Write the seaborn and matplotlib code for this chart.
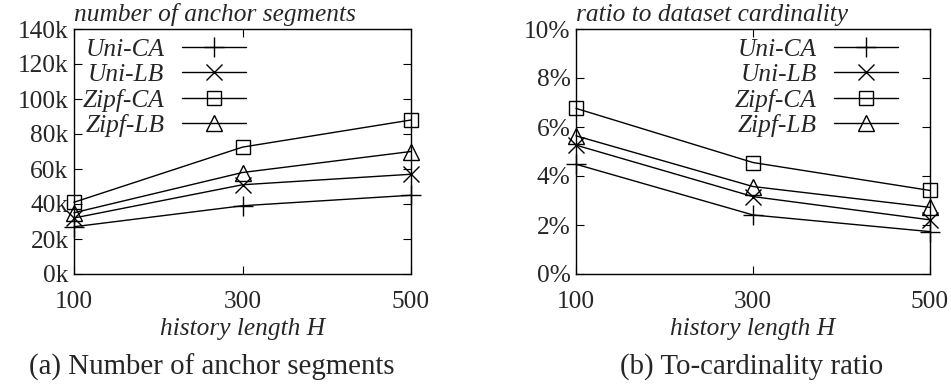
import matplotlib
matplotlib.use("Agg")
import matplotlib.pyplot as plt
import seaborn as sns
import numpy as np
from matplotlib.ticker import FuncFormatter

sns.set_style("ticks")
plt.rcParams['font.family'] = ['Liberation Serif', 'DejaVu Serif']

H = [100, 300, 500]
series = ["Uni-CA", "Uni-LB", "Zipf-CA", "Zipf-LB"]
markers = ["+", "x", "s", "^"]

# (a) number of anchor segments (k)
anchor_uni_ca = [27, 39, 45]
anchor_uni_lb = [32, 51, 57]
anchor_zipf_ca = [41, 72.5, 88]
anchor_zipf_lb = [35, 58, 70]

# (b) ratio to dataset cardinality (%)
ratio_uni_ca = [4.48, 2.41, 1.73]
ratio_uni_lb = [5.26, 3.16, 2.21]
ratio_zipf_ca = [6.76, 4.55, 3.41]
ratio_zipf_lb = [5.64, 3.57, 2.72]

anchor = [anchor_uni_ca, anchor_uni_lb, anchor_zipf_ca, anchor_zipf_lb]
ratio = [ratio_uni_ca, ratio_uni_lb, ratio_zipf_ca, ratio_zipf_lb]

W, Hpx = 951, 385
fig = plt.figure(figsize=(W / 100, Hpx / 100), dpi=100)

def box(l, r, t, b):
    return [l / W, (Hpx - b) / Hpx, (r - l) / W, (b - t) / Hpx]

ax1 = fig.add_axes(box(74, 411, 29, 274))
ax2 = fig.add_axes(box(576, 930, 29, 274))

fs = 18.3
msizes = {"+": 14, "x": 11, "s": 10, "^": 11}

def draw(ax, data, ylim, yticks, fmt, title, legend_loc, bbox):
    for name, mk, vals in zip(series, markers, data):
        sns.lineplot(x=H, y=vals, ax=ax, color="black", lw=1.0, marker=mk,
                     markersize=msizes[mk], markerfacecolor="none",
                     markeredgecolor="black", markeredgewidth=1.0,
                     label=name, clip_on=False)
    ax.set_xlim(100, 500)
    ax.set_ylim(*ylim)
    ax.set_xticks(H)
    ax.set_yticks(yticks)
    ax.yaxis.set_major_formatter(FuncFormatter(fmt))
    ax.tick_params(direction="in", length=6, width=0.8, labelsize=fs,
                   top=True, right=True, pad=4, color="black")
    ax.tick_params(axis="x", pad=12)
    for s in ax.spines.values():
        s.set_linewidth(1.0)
        s.set_color("black")
    ax.set_xlabel("history length H", fontsize=fs, style="italic", labelpad=4)
    ax.set_ylabel("")
    ax.annotate(title, xy=(0, 1.0), xycoords="axes fraction",
                xytext=(0, 2), textcoords="offset points", fontsize=fs,
                style="italic", ha="left", va="bottom")
    leg = ax.legend(loc=legend_loc, bbox_to_anchor=bbox, frameon=False,
                    markerfirst=False, fontsize=fs, handlelength=2.5,
                    labelspacing=0.1, handletextpad=0.7, borderaxespad=0)
    for t in leg.get_texts():
        t.set_style("italic")

draw(ax1, anchor, (0, 140), np.arange(0, 141, 20), lambda v, p: f"{int(v)}k",
     "number of anchor segments", "upper left", (-0.005, 1.005))
draw(ax2, ratio, (0, 10), np.arange(0, 11, 2), lambda v, p: f"{int(v)}%",
     "ratio to dataset cardinality", "upper right", (0.938, 1.005))

fig.text(212 / W, 1 - 367 / Hpx, "(a) Number of anchor segments", fontsize=20.8,
         ha="center", va="center")
fig.text(752 / W, 1 - 367 / Hpx, "(b) To-cardinality ratio", fontsize=20.8,
         ha="center", va="center")

fig.savefig("out.png", dpi=100)
